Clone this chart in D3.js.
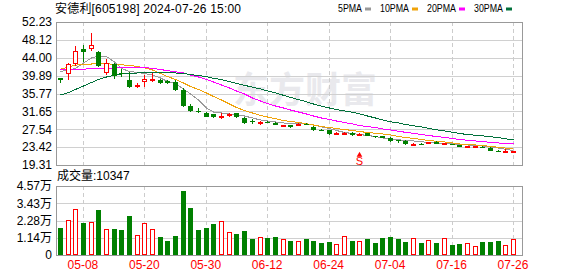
<!DOCTYPE html>
<html>
<head>
<meta charset="utf-8">
<script src="https://cdn.jsdelivr.net/npm/d3@7"></script>
<style>
  body { margin: 0; background: #fff; }
  svg { display: block; }
  text { font-family: "Liberation Sans", "Noto Sans CJK SC", sans-serif; }
</style>
</head>
<body>
<script>
// trading days shown (MM-DD, 2024)
const dates = ['04-30','05-06','05-07','05-08','05-09','05-10','05-13','05-14','05-15','05-16',
  '05-17','05-20','05-21','05-22','05-23','05-24','05-27','05-28','05-29','05-30',
  '05-31','06-03','06-04','06-05','06-06','06-07','06-11','06-12','06-13','06-14',
  '06-17','06-18','06-19','06-20','06-21','06-24','06-25','06-26','06-27','06-28',
  '07-01','07-02','07-03','07-04','07-05','07-08','07-09','07-10','07-11','07-12',
  '07-15','07-16','07-17','07-18','07-19','07-22','07-23','07-24','07-25','07-26'];

const open = [39.27,40.19,42.56,45.95,46.08,45.39,40.56,42.49,40.45,38.88,
  37.55,38.49,38.88,38.88,38.72,38.49,36.58,33.0,31.75,31.35,
  30.98,30.5,30.85,31.21,30.06,29.35,28.75,29.28,29.05,28.45,
  28.52,28.6,28.8,28.14,27.45,27.3,26.55,26.6,26.75,26.35,
  26.6,25.99,25.95,25.6,25.07,24.84,24.0,24.2,24.45,24.67,
  24.28,24.12,23.92,23.35,23.35,23.56,23.3,22.6,22.45,22.3];
const high = [39.35,42.86,46.71,46.94,49.77,45.55,43.64,42.72,41.34,40.79,
  38.26,40.03,40.42,39.11,38.8,38.88,36.97,33.35,32.36,31.5,
  31.1,31.21,31.35,31.3,30.3,29.83,29.4,29.35,29.1,28.6,
  28.6,28.95,29.0,28.3,27.6,27.45,26.9,27.0,26.9,26.6,
  26.7,26.1,26.05,25.65,25.1,25.07,24.31,24.35,24.7,24.75,
  24.4,24.15,23.95,23.75,23.75,23.6,23.35,22.65,22.9,22.6];
const low = [38.12,38.88,42.10,43.09,45.55,41.95,40.03,39.11,39.50,37.11,
  36.97,37.34,38.49,37.89,37.89,36.42,32.7,31.44,31.21,30.29,
  30.06,29.9,30.3,30.06,28.68,28.75,28.6,28.9,28.45,28.4,
  27.9,28.45,28.45,27.2,27.1,26.3,26.3,26.4,26.1,26.0,
  25.9,25.6,25.5,24.5,24.45,23.92,23.85,23.95,24.35,24.05,
  24.2,24.0,23.4,23.3,23.25,23.45,22.55,22.3,22.23,22.25];
const close = [38.88,42.56,45.55,45.32,46.94,42.10,42.72,39.80,40.35,37.34,
  37.62,39.04,39.11,38.12,38.26,36.58,32.89,31.7,31.55,30.43,
  30.29,30.6,30.98,30.29,28.91,29.2,29.28,29.05,28.52,28.55,
  28.14,28.8,28.65,27.37,27.35,26.5,26.65,26.7,26.22,26.42,
  25.99,25.7,25.6,24.91,24.84,24.08,24.1,24.05,24.6,24.12,
  24.35,24.05,23.45,23.68,23.68,23.5,22.6,22.5,22.5,22.53];
const volume = [18080,23180,30470,21390,21860,29800,17020,17220,16560,26030,
  13250,21190,17220,11920,9270,12580,42590,31330,16560,18080,
  20730,22520,15230,14110,15900,10600,11920,11260,11920,10400,
  9470,9270,10600,9470,8150,8610,7290,12580,9470,9270,
  10600,8150,11260,11920,10600,8610,11060,8150,9930,8150,
  11060,6620,7290,7750,5760,8610,8610,9270,6620,10347];

// moving averages as drawn on the chart
const ma5 = [40.84,41.18,41.53,42.79,43.94,44.40,44.29,43.02,41.53,40.84,
  40.60,40.37,40.03,39.34,38.53,38.07,36.81,35.66,34.27,32.43,
  31.51,31.28,31.05,30.82,30.59,30.13,29.67,29.44,29.21,28.98,
  28.91,28.86,28.75,28.52,28.06,27.71,27.25,26.79,26.56,26.33,
  26.10,25.87,25.53,25.30,25.14,24.95,24.84,24.65,24.49,24.38,
  24.31,24.15,24.03,23.92,23.80,23.69,23.46,23.22,22.93,22.65];
const ma10 = [41.34,41.87,42.29,42.45,42.56,42.65,42.61,42.49,42.38,42.22,
  41.99,41.69,41.18,40.37,39.68,38.99,38.19,37.38,36.69,35.89,
  35.08,34.27,33.35,32.55,31.86,31.28,30.71,30.36,29.95,29.56,
  29.33,29.09,28.80,28.52,28.17,27.94,27.71,27.48,27.25,27.02,
  26.79,26.61,26.45,26.22,25.87,25.64,25.41,25.18,24.95,24.77,
  24.61,24.38,24.15,24.03,23.92,23.80,23.57,23.39,23.22,22.99];
const ma20 = [41.18,41.23,41.32,41.39,41.46,41.53,41.57,41.64,41.69,41.73,
  41.78,41.76,41.53,41.30,41.02,40.77,40.49,40.03,39.57,38.97,
  38.42,37.73,37.04,36.35,35.66,34.73,34.04,33.47,32.89,32.43,
  31.97,31.51,31.05,30.59,30.13,29.79,29.44,29.09,28.75,28.40,
  28.17,27.94,27.60,27.37,27.07,26.84,26.61,26.33,26.10,25.87,
  25.64,25.41,25.18,25.00,24.84,24.68,24.54,24.38,24.26,24.15];
const ma30 = [35.43,36.00,36.69,37.50,38.30,38.99,39.57,39.96,40.31,40.42,
  40.49,40.54,40.56,40.56,40.54,40.49,40.37,40.14,39.91,39.68,
  39.27,38.95,38.53,38.07,37.66,37.22,36.81,36.35,35.89,35.36,
  34.87,34.37,33.86,33.35,32.85,32.43,32.09,31.74,31.44,31.10,
  30.59,30.13,29.67,29.28,28.98,28.63,28.36,28.06,27.76,27.41,
  27.14,26.84,26.56,26.33,26.15,26.03,25.83,25.60,25.34,25.07];

const priceTicks = [52.23, 48.12, 44.00, 39.89, 35.77, 31.65, 27.54, 23.42, 19.31];
const volTicks = [0, 11425, 22850, 34275, 45700];
const volTickLabels = ['0', '1.14万', '2.28万', '3.43万', '4.57万'];
const dateTicks = ['05-08', '05-20', '05-30', '06-12', '06-24', '07-04', '07-16', '07-26'];
const maNames = ['5PMA', '10PMA', '20PMA', '30PMA'];
const signals = [{ date: '06-28', label: 'S' }];

const W = 578, H = 276;
const left = 56, right = 522;
const mainTop = 22, mainBottom = 165;
const volTop = 186, volBottom = 255;

const RED = '#ff0000', GREEN = '#008000';
const maColors = ['#999999', '#f0a30a', '#ff00ff', '#00703a'];

const svg = d3.select('body').append('svg')
  .attr('width', W)
  .attr('height', H);

const x = d3.scaleBand()
  .domain(dates)
  .range([left, left + 60 * 7.68]);
const cx = (d) => Math.round(x(d) + x.bandwidth() / 2);

const y = d3.scaleLinear()
  .domain([priceTicks[priceTicks.length - 1], priceTicks[0]])
  .range([mainBottom, mainTop]);

const yv = d3.scaleLinear()
  .domain([0, volTicks[volTicks.length - 1]])
  .range([volBottom, volTop]);

// watermark
svg.append('text')
  .attr('x', 233)
  .attr('y', 103)
  .attr('font-size', 36)
  .attr('font-weight', 'bold')
  .style('font-family', '"Noto Sans CJK SC", sans-serif')
  .attr('fill', '#e9e9ed')
  .text('东方财富');

// horizontal grids
const hgrid = (scale, vals) => (g) => g
  .attr('transform', `translate(${left},0)`)
  .call(d3.axisLeft(scale).tickValues(vals).tickSize(-(right - left)).tickFormat(''))
  .call((g) => g.select('.domain').remove())
  .call((g) => g.selectAll('line').attr('stroke', '#d0d0d0').attr('shape-rendering', 'crispEdges'));

svg.append('g').call(hgrid(y, priceTicks));
svg.append('g').call(hgrid(yv, volTicks));

// vertical dashed grids in both panels
[[mainTop, mainBottom], [volTop, volBottom]].forEach(([t, b]) => {
  svg.append('g')
    .selectAll('line')
    .data(dateTicks)
    .enter()
    .append('line')
    .attr('x1', (d) => cx(d) + 0.5)
    .attr('x2', (d) => cx(d) + 0.5)
    .attr('y1', t)
    .attr('y2', b)
    .attr('stroke', '#cccccc')
    .attr('stroke-dasharray', '4,3');
});

// frames
[[mainTop, mainBottom], [volTop, volBottom]].forEach(([t, b]) => {
  svg.append('rect')
    .attr('x', left + 0.5)
    .attr('y', t + 0.5)
    .attr('width', right - left)
    .attr('height', b - t)
    .attr('fill', 'none')
    .attr('stroke', '#999999')
    .attr('shape-rendering', 'crispEdges');
});

// y axis labels
const labelAxis = (axis) => (g) => g
  .attr('transform', `translate(${left},0)`)
  .call(axis.tickSize(0).tickPadding(4))
  .call((g) => g.select('.domain').remove())
  .call((g) => g.selectAll('text')
    .attr('font-size', 12)
    .attr('fill', '#000')
    .style('font-family', '"Liberation Sans", "Noto Sans CJK SC", sans-serif'));

svg.append('g').call(labelAxis(
  d3.axisLeft(y).tickValues(priceTicks).tickFormat(d3.format('.2f'))));
svg.append('g').call(labelAxis(
  d3.axisLeft(yv).tickValues(volTicks).tickFormat((d, i) => volTickLabels[i])));

// date axis
svg.append('g')
  .attr('transform', `translate(0,${volBottom})`)
  .call(d3.axisBottom(x).tickValues(dateTicks).tickSize(0).tickPadding(5))
  .call((g) => g.select('.domain').remove())
  .call((g) => g.selectAll('text')
    .attr('font-size', 12)
    .attr('fill', RED));

// moving averages
const maData = [ma5, ma10, ma20, ma30];
maData.forEach((arr, k) => {
  svg.append('path')
    .datum(arr)
    .attr('fill', 'none')
    .attr('stroke', maColors[k])
    .attr('stroke-width', 1)
    .attr('shape-rendering', 'crispEdges')
    .attr('d', d3.line()
      .x((d, i) => cx(dates[i]) + 0.5)
      .y((d) => y(d)));
});

// candles
const isUp = (i) => close[i] >= open[i];
const candles = svg.append('g')
  .selectAll('g')
  .data(dates)
  .enter()
  .append('g');

candles.append('line')
  .attr('x1', (d) => cx(d) + 0.5)
  .attr('x2', (d) => cx(d) + 0.5)
  .attr('y1', (d, i) => y(high[i]))
  .attr('y2', (d, i) => y(low[i]))
  .attr('stroke', (d, i) => isUp(i) ? RED : GREEN)
  .attr('shape-rendering', 'crispEdges');

candles.append('rect')
  .attr('x', (d, i) => isUp(i) ? cx(d) - 1.5 : cx(d) - 2)
  .attr('y', (d, i) => {
    const top = y(Math.max(open[i], close[i]));
    return isUp(i) ? top + 0.5 : top;
  })
  .attr('width', (d, i) => isUp(i) ? 4 : 5)
  .attr('height', (d, i) => Math.max(1, Math.abs(y(open[i]) - y(close[i])) - (isUp(i) ? 1 : 0)))
  .attr('fill', (d, i) => isUp(i) ? '#fff' : GREEN)
  .attr('stroke', (d, i) => isUp(i) ? RED : 'none')
  .attr('shape-rendering', 'crispEdges');

// signal marker
signals.forEach((s) => {
  const sx = cx(s.date) + 0.5;
  svg.append('path')
    .attr('d', d3.symbol(d3.symbolTriangle, 14)())
    .attr('transform', `translate(${sx},${mainBottom - 10})`)
    .attr('fill', RED);
  svg.append('text')
    .attr('x', sx)
    .attr('y', mainBottom - 0.5)
    .attr('text-anchor', 'middle')
    .attr('font-size', 11)
    .attr('fill', RED)
    .text(s.label);
});

// volume bars
svg.append('g')
  .selectAll('rect')
  .data(dates)
  .enter()
  .append('rect')
  .attr('x', (d, i) => isUp(i) ? cx(d) - 1.5 : cx(d) - 2)
  .attr('y', (d, i) => isUp(i) ? yv(volume[i]) + 0.5 : yv(volume[i]))
  .attr('width', (d, i) => isUp(i) ? 4 : 5)
  .attr('height', (d, i) => volBottom - yv(volume[i]) - (isUp(i) ? 1 : 0))
  .attr('fill', (d, i) => isUp(i) ? '#fff' : GREEN)
  .attr('stroke', (d, i) => isUp(i) ? RED : 'none')
  .attr('shape-rendering', 'crispEdges');

// titles
svg.append('text')
  .attr('x', 55)
  .attr('y', 13)
  .attr('font-size', 12)
  .attr('fill', '#000')
  .attr('textLength', 186)
  .attr('lengthAdjust', 'spacing')
  .text('安德利[605198] 2024-07-26 15:00');

svg.append('text')
  .attr('x', 57)
  .attr('y', 180)
  .attr('font-size', 12)
  .attr('fill', '#000')
  .text('成交量:' + volume[volume.length - 1]);

// legend
let lx = 338;
maNames.forEach((name, k) => {
  const tw = name.length === 4 ? 24 : 29;
  svg.append('text')
    .attr('x', lx)
    .attr('y', 12)
    .attr('font-size', 10)
    .attr('fill', '#000')
    .attr('textLength', tw)
    .attr('lengthAdjust', 'spacingAndGlyphs')
    .text(name);
  svg.append('rect')
    .attr('x', lx + tw + 3)
    .attr('y', 7.5)
    .attr('width', 6)
    .attr('height', 3)
    .attr('fill', maColors[k]);
  lx += tw + 3 + 6 + 9;
});
</script>
</body>
</html>
